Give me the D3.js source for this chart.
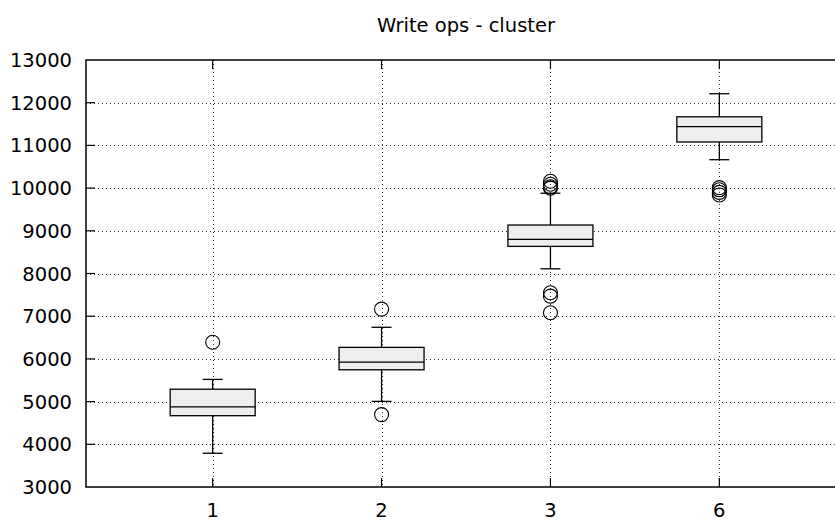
<!DOCTYPE html>
<html>
<head>
<meta charset="utf-8">
<script src="https://cdn.jsdelivr.net/npm/d3@7"></script>
<style>
  html, body { margin: 0; padding: 0; background: #fff; }
  svg { display: block; font-family: "DejaVu Sans", sans-serif; }
</style>
</head>
<body>
<svg id="chart" width="835" height="521"></svg>
<script>
// Write throughput per cluster size: box summaries plus outliers
const categories = ["1", "2", "3", "6"];
const lowerWhisker = [3790, 5005, 8110, 10665];
const q1 = [4670, 5745, 8635, 11080];
const medians = [4875, 5925, 8800, 11440];
const q3 = [5290, 6270, 9135, 11670];
const upperWhisker = [5520, 6740, 9880, 12210];
const outliers = [
  [6390],
  [7165, 4695],
  [10160, 10090, 10030, 10000, 7550, 7470, 7080],
  [10010, 9960, 9900, 9840]
];
const yTicks = [3000, 4000, 5000, 6000, 7000, 8000, 9000, 10000, 11000, 12000, 13000];
const title = "Write ops - cluster";

const svg = d3.select("#chart");
const W = 835, H = 521;
const margin = { top: 60, left: 86, bottom: 34 };
const plotRight = 846; // frame continues just past the window edge
const plotBottom = H - margin.bottom;

const x = d3.scaleLinear().domain([0.25, 4.75]).range([margin.left, plotRight]);
const y = d3.scaleLinear().domain([3000, 13000]).range([plotBottom, margin.top]);
const xi = i => x(i + 1);

const tickLen = 9;
const gridColor = "#333";
const fontSize = 19.5;

// Grid
const grid = svg.append("g");
grid.selectAll("line.hy").data(yTicks.slice(1, -1)).join("line")
  .attr("x1", margin.left).attr("x2", plotRight)
  .attr("y1", d => Math.round(y(d)) + 0.5).attr("y2", d => Math.round(y(d)) + 0.5)
  .attr("stroke", gridColor).attr("stroke-width", 1).attr("stroke-dasharray", "1,3");
grid.selectAll("line.vx").data(categories).join("line")
  .attr("x1", (d, i) => Math.round(xi(i)) + 0.5).attr("x2", (d, i) => Math.round(xi(i)) + 0.5)
  .attr("y1", margin.top).attr("y2", plotBottom)
  .attr("stroke", gridColor).attr("stroke-width", 1).attr("stroke-dasharray", "1,3");

// Boxes
const boxW = 85, capW = 20;
const boxes = svg.append("g").attr("stroke", "#000").attr("stroke-width", 1.3);
categories.forEach((c, i) => {
  const cx = xi(i);
  const g = boxes.append("g");
  // whiskers
  g.append("line").attr("x1", cx).attr("x2", cx).attr("y1", y(upperWhisker[i])).attr("y2", y(q3[i]));
  g.append("line").attr("x1", cx).attr("x2", cx).attr("y1", y(q1[i])).attr("y2", y(lowerWhisker[i]));
  g.append("line").attr("x1", cx - capW / 2).attr("x2", cx + capW / 2)
    .attr("y1", y(upperWhisker[i])).attr("y2", y(upperWhisker[i]));
  g.append("line").attr("x1", cx - capW / 2).attr("x2", cx + capW / 2)
    .attr("y1", y(lowerWhisker[i])).attr("y2", y(lowerWhisker[i]));
  // box
  g.append("rect").attr("x", cx - boxW / 2).attr("width", boxW)
    .attr("y", y(q3[i])).attr("height", y(q1[i]) - y(q3[i]))
    .attr("fill", "#eeeeee");
  g.append("line").attr("x1", cx - boxW / 2).attr("x2", cx + boxW / 2)
    .attr("y1", y(medians[i])).attr("y2", y(medians[i]));
  // outliers
  g.selectAll("circle").data(outliers[i]).join("circle")
    .attr("cx", cx).attr("cy", d => y(d)).attr("r", 7)
    .attr("fill", "none").attr("stroke-width", 1.1);
});

// Frame
const frame = svg.append("g").attr("stroke", "#000").attr("stroke-width", 1.5).attr("fill", "none");
frame.append("path")
  .attr("d", `M${plotRight},${margin.top}H${margin.left}V${plotBottom}H${plotRight}`);

// Ticks (inward, mirrored on top)
const ticks = svg.append("g").attr("stroke", "#000").attr("stroke-width", 1.2);
ticks.selectAll("line.ly").data(yTicks.slice(1, -1)).join("line")
  .attr("x1", margin.left).attr("x2", margin.left + tickLen)
  .attr("y1", d => y(d)).attr("y2", d => y(d));
ticks.selectAll("line.bx").data(categories).join("line")
  .attr("x1", (d, i) => xi(i)).attr("x2", (d, i) => xi(i))
  .attr("y1", plotBottom).attr("y2", plotBottom - tickLen);
ticks.selectAll("line.tx").data(categories).join("line")
  .attr("x1", (d, i) => xi(i)).attr("x2", (d, i) => xi(i))
  .attr("y1", margin.top).attr("y2", margin.top + tickLen);

// Tick labels
svg.append("g").selectAll("text").data(yTicks).join("text")
  .attr("x", margin.left - 14).attr("y", d => y(d))
  .attr("dy", "0.36em").attr("text-anchor", "end")
  .attr("font-size", fontSize).attr("fill", "#000").text(d => d);
svg.append("g").selectAll("text").data(categories).join("text")
  .attr("x", (d, i) => xi(i)).attr("y", 516.5)
  .attr("text-anchor", "middle")
  .attr("font-size", fontSize).attr("fill", "#000").text(d => d);

// Title
svg.append("text").attr("x", (margin.left + plotRight) / 2).attr("y", 32)
  .attr("text-anchor", "middle").attr("font-size", fontSize).attr("fill", "#000")
  .text(title);
</script>
</body>
</html>
